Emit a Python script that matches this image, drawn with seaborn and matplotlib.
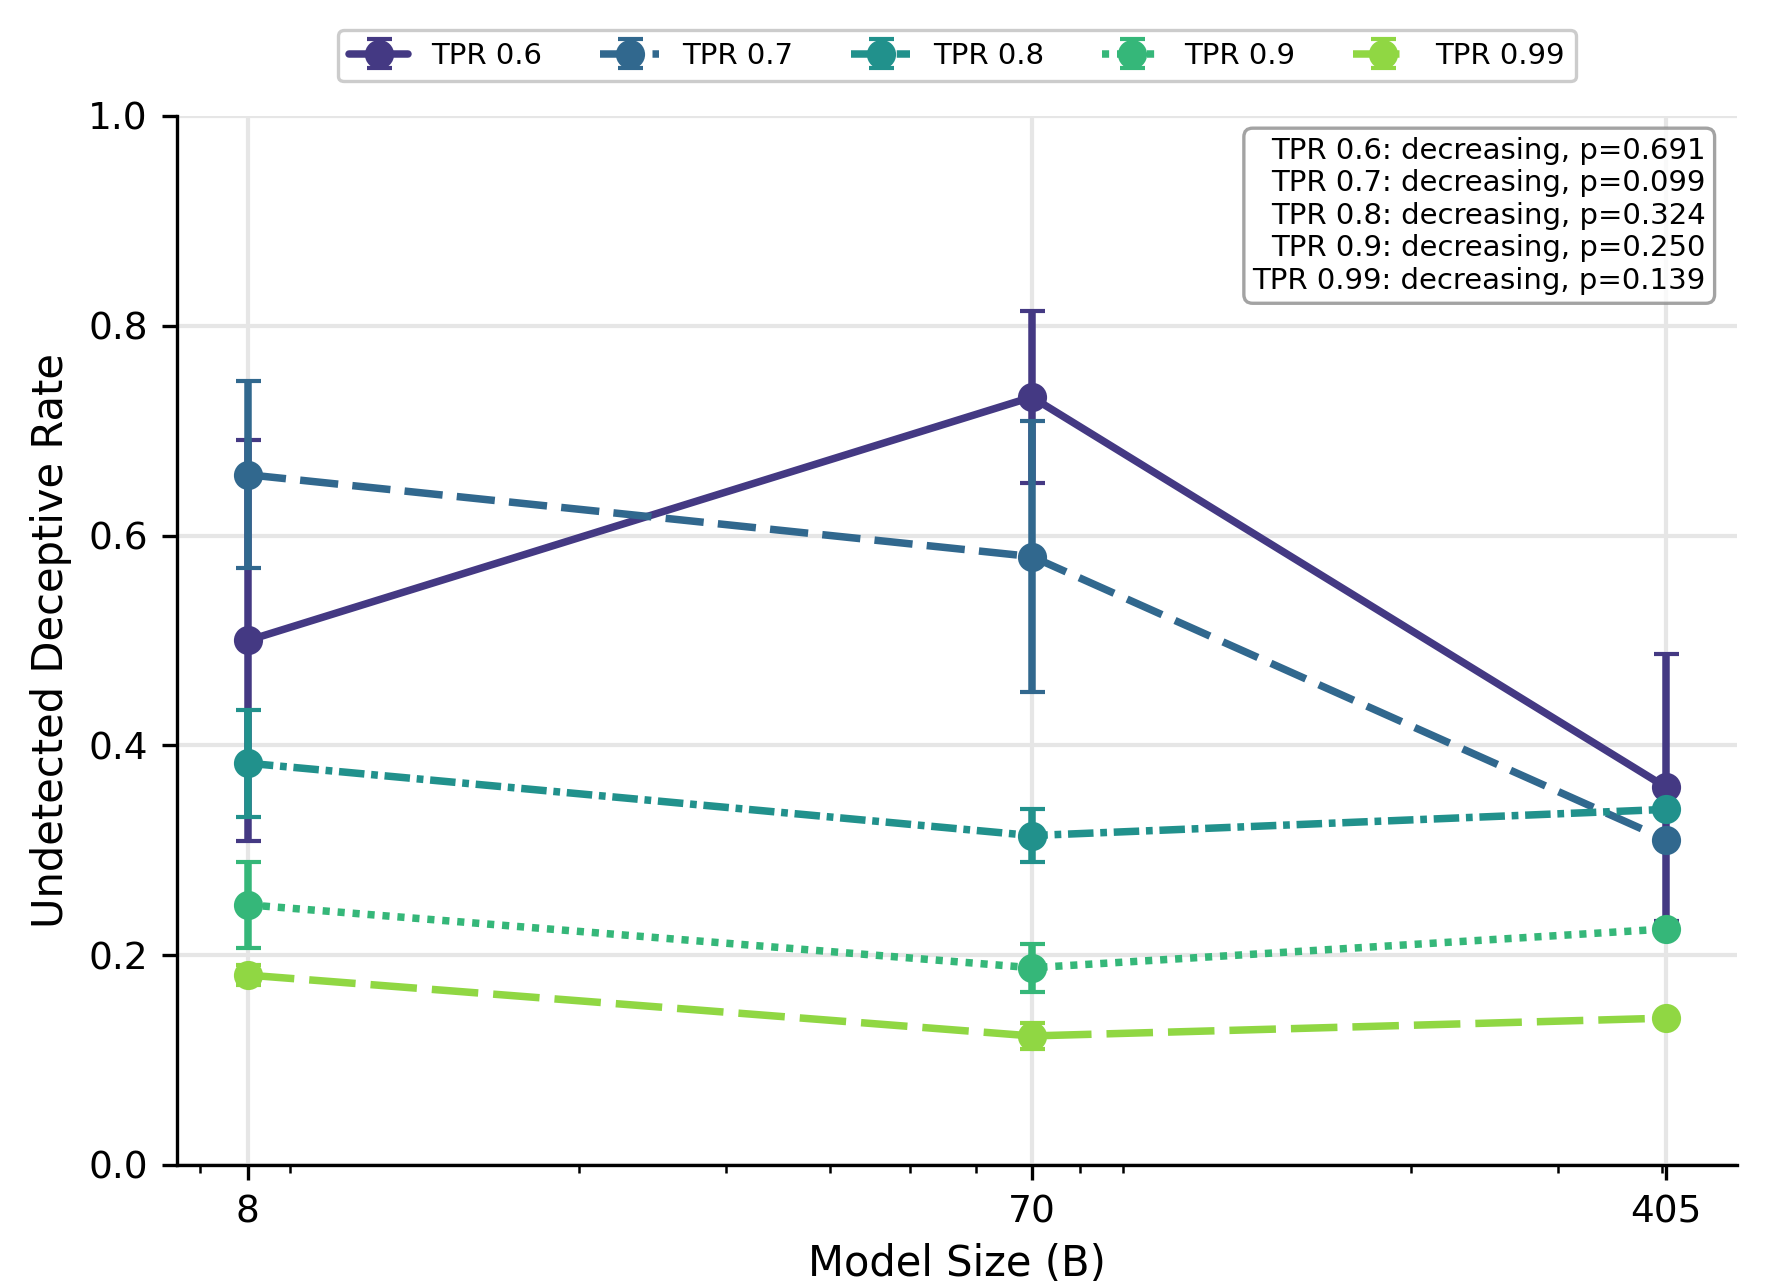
import numpy as np
import matplotlib
matplotlib.use("Agg")
import matplotlib.pyplot as plt
from matplotlib.ticker import FixedLocator, NullFormatter, ScalarFormatter
import seaborn as sns


model_sizes = [8, 70, 405]
tpr_labels = ["TPR 0.6", "TPR 0.7", "TPR 0.8", "TPR 0.9", "TPR 0.99"]

rate_06 = [0.500, 0.732, 0.360]
rate_07 = [0.658, 0.580, 0.310]
rate_08 = [0.383, 0.314, 0.339]
rate_09 = [0.248, 0.188, 0.225]
rate_099 = [0.181, 0.123, 0.140]

err_06 = [0.191, 0.082, 0.127]
err_07 = [0.089, 0.129, np.nan]
err_08 = [0.051, 0.025, np.nan]
err_09 = [0.041, 0.023, np.nan]
err_099 = [0.0095, 0.0125, np.nan]

trends = ["decreasing", "decreasing", "decreasing", "decreasing", "decreasing"]
p_values = [0.691, 0.099, 0.324, 0.250, 0.139]

rates = [rate_06, rate_07, rate_08, rate_09, rate_099]
errors = [err_06, err_07, err_08, err_09, err_099]

LW = 1.8
line_styles = [
    "-",
    (0, (5.1, 1.9)),
    (0, (3.4, 0.9, 0.9, 0.9)),
    (0, (0.95, 1.05)),
    (0, (6.2, 2.0)),
]


def main() -> None:
    sns.set_theme(style="ticks", context="paper")
    plt.rcParams.update({
        "font.family": "DejaVu Sans",
        "text.color": "black",
        "axes.labelcolor": "black",
        "xtick.color": "black",
        "ytick.color": "black",
        "axes.edgecolor": "black",
        "axes.linewidth": 0.8,
        "xtick.major.size": 3.5,
        "ytick.major.size": 3.5,
        "xtick.minor.size": 2.0,
        "xtick.major.width": 0.8,
        "ytick.major.width": 0.8,
        "xtick.minor.width": 0.6,
        "xtick.labelsize": 9,
        "ytick.labelsize": 9,
        "axes.labelsize": 10,
    })
    colors = sns.color_palette("viridis", len(tpr_labels))

    fig = plt.figure(figsize=(1768 / 300, 1284 / 300), dpi=300)
    ax = fig.add_axes([0.1001, 0.0927, 0.8824, 0.817])

    for label, ys, err, color, ls in zip(tpr_labels, rates, errors, colors, line_styles):
        ax.errorbar(
            model_sizes, ys, yerr=err,
            label=label, color=color, linestyle=ls, linewidth=LW,
            marker="o", markersize=6, capsize=3, capthick=1.0, elinewidth=LW,
        )

    ax.set_xscale("log")
    ax.xaxis.set_major_locator(FixedLocator(model_sizes))
    ax.xaxis.set_major_formatter(ScalarFormatter())
    ax.xaxis.set_minor_formatter(NullFormatter())
    ax.set_ylim(0, 1.0)
    ax.set_yticks([0.0, 0.2, 0.4, 0.6, 0.8, 1.0])

    ax.grid(True, which="major", color="0.9", linewidth=1.0)
    ax.set_axisbelow(True)
    sns.despine(ax=ax)

    ax.set_xlabel("Model Size (B)", labelpad=3)
    ax.set_ylabel("Undetected Deceptive Rate")

    ax.legend(
        loc="lower center", bbox_to_anchor=(0.5, 1.019), ncol=5, fontsize=7,
        frameon=True, fancybox=True, edgecolor="0.8", framealpha=1.0,
    )

    lines = [f"{lab}: {tr}, p={p:.3f}" for lab, tr, p in zip(tpr_labels, trends, p_values)]
    ax.text(
        0.98, 0.98, "\n".join(lines), transform=ax.transAxes,
        ha="right", va="top", fontsize=7,
        bbox=dict(boxstyle="round", facecolor="white", edgecolor="0.55", alpha=0.8),
    )

    fig.savefig("out.png", dpi=300)
    plt.close(fig)


if __name__ == "__main__":
    main()
